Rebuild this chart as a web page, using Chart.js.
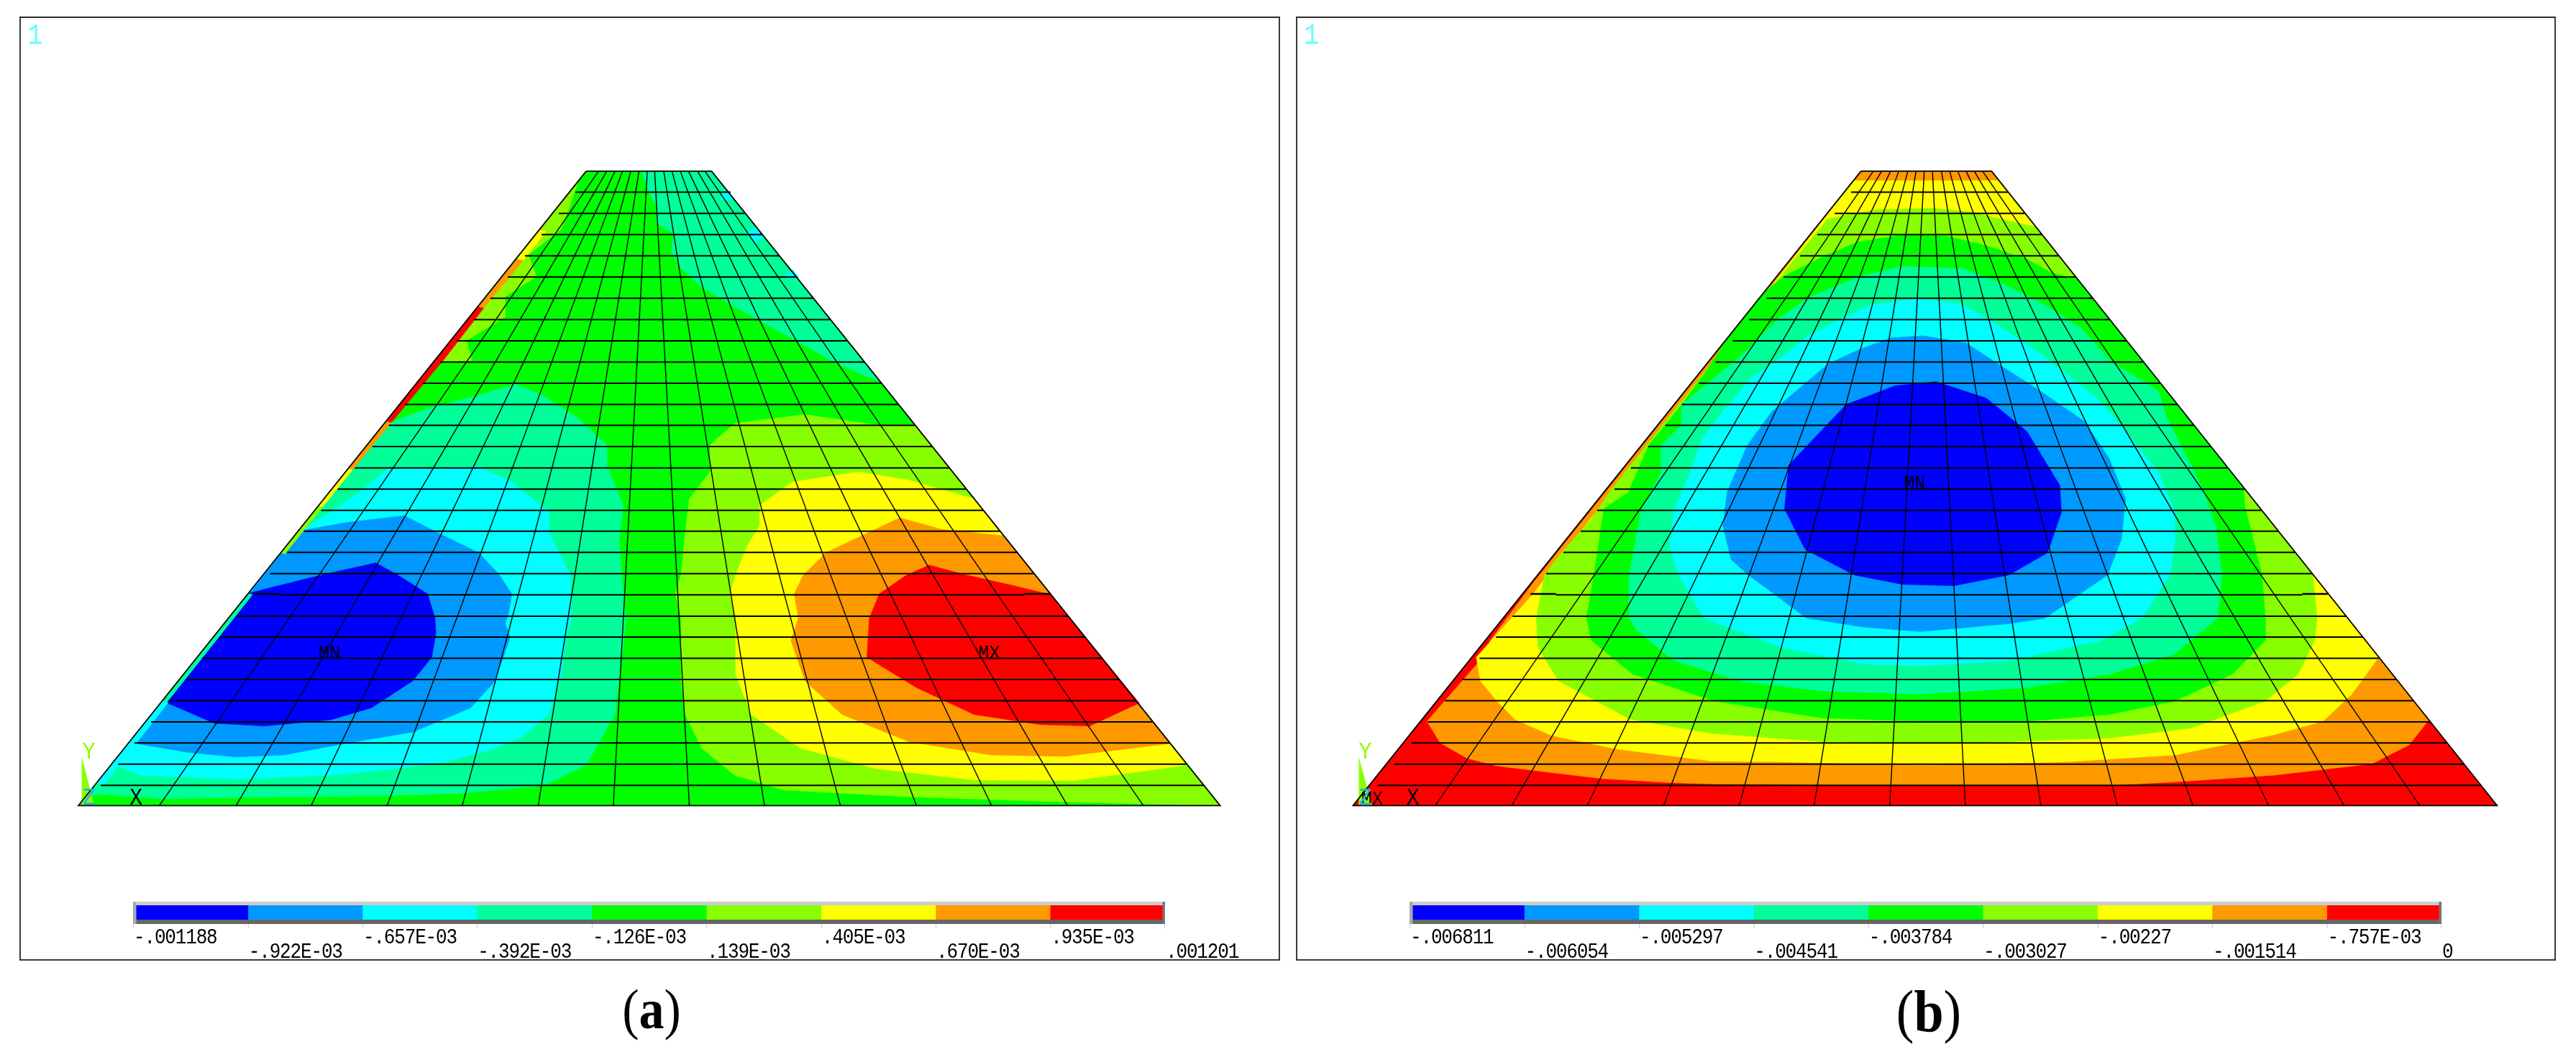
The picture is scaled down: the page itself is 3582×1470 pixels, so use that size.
<!DOCTYPE html>
<html>
<head>
<meta charset="utf-8">
<title>Contour plots</title>
<script src="https://cdn.jsdelivr.net/npm/chart.js@4/dist/chart.umd.min.js"></script>
<style>
  html, body { margin: 0; padding: 0; background: #fff; }
  body { position: relative; width: 3582px; height: 1470px; overflow: hidden; }
  canvas { position: absolute; }
  .frame { position: absolute; box-sizing: border-box; border: 2px solid #3a3a3a; border-top-color: #2a2a2a; }
  .caption { position: absolute; top: 1364px; width: 200px; text-align: center; color: #000;
             font-family: "Liberation Serif", serif; transform: scaleY(1.12); }
</style>
</head>
<body>
<div class="frame" style="left:27px;top:23px;width:1753px;height:1313px"></div>
<div class="frame" style="left:1802px;top:23px;width:1752px;height:1313px"></div>
<canvas id="plotA" width="1800" height="1470" style="left:0;top:0"></canvas>
<canvas id="plotB" width="1792" height="1470" style="left:1790px;top:0"></canvas>
<canvas id="barA" width="1595" height="90" style="left:165px;top:1249px"></canvas>
<canvas id="barB" width="1595" height="90" style="left:1940px;top:1249px"></canvas>
<div class="caption" style="left:806px;font-size:70px">(<b>a</b>)</div>
<div class="caption" style="left:2582px;font-size:74px">(<b>b</b>)</div>

<script>
// contour colours, low to high
const bandColors = ["#0000ff", "#0099ff", "#00ffff", "#00ff99", "#00ff00", "#88ff00", "#ffff00", "#ff9900", "#ff0000"];

// colour bar levels and their printed labels
const levelsA = [-0.001188, -0.000922, -0.000657, -0.000392, -0.000126, 0.000139, 0.000405, 0.00067, 0.000935, 0.001201];
const levelsB = [-0.006811, -0.006054, -0.005297, -0.004541, -0.003784, -0.003027, -0.00227, -0.001514, -0.000757, 0];
const tickLabelsA = ["-.001188", "-.922E-03", "-.657E-03", "-.392E-03", "-.126E-03", ".139E-03", ".405E-03", ".670E-03", ".935E-03", ".001201"];
const tickLabelsB = ["-.006811", "-.006054", "-.005297", "-.004541", "-.003784", "-.003027", "-.00227", "-.001514", "-.757E-03", "0"];

// mesh, in plot units
const meshRows = [285, 316.5, 348, 379.5, 411, 442.5, 474, 505.5, 537, 568.5, 600, 631, 662.5, 694, 725.5, 757, 788, 819.5, 851, 882.5, 914, 945, 976.5, 1008, 1039.5, 1071, 1102, 1133.5, 1165];
const rowStartA = [697, 677, 656, 636, 615, 594, 574, 553, 533, 512, 491, 471, 451, 430, 409, 389, 368, 348, 327, 339, 286, 266, 245, 225, 204, 183, 163, 143, 122];
const rowEndA = [885, 902, 923, 944, 964, 985, 1005, 1026, 1047, 1067, 1088, 1108, 1129, 1150, 1170, 1191, 1211, 1232, 1252, 1241, 1294, 1314, 1335, 1355, 1376, 1396, 1417, 1437, 1458];
const rowStartB = [686, 666, 645, 624, 604, 583, 562, 542, 521, 501, 480, 460, 439, 418, 398, 377, 357, 336, 315, 327, 274, 254, 234, 213, 192, 171, 151, 130, 110];
const rowEndB = [877, 897, 918, 938, 959, 980, 1000, 1021, 1041, 1062, 1083, 1103, 1124, 1144, 1165, 1185, 1206, 1226, 1247, 1235, 1288, 1308, 1328, 1349, 1370, 1391, 1411, 1432, 1452];
const colBottomA = [193, 286, 377, 469, 560, 652, 743, 835, 926, 1018, 1110, 1201, 1293, 1385];
const colTopA = [725, 735, 745, 754, 764, 774, 784, 793, 804, 814, 824, 834, 845, 854];
const colBottomB = [180, 273, 365, 458, 550, 641, 733, 825, 917, 1010, 1102, 1194, 1286, 1378];
const colTopB = [713, 723, 734, 744, 755, 765, 775, 785, 796, 806, 816, 826, 836, 846];
const outlineA = [[710, 254], [862, 254], [1478, 1195], [95, 1195], [710, 254]];
const outlineB = [[698, 254], [857, 254], [1472, 1195], [80, 1195], [698, 254]];
const offsetRowsA = [[[307, 881], [339, 881]], [[1241, 881], [1273, 881]]];
const offsetRowsB = [[[296, 881], [327, 881]], [[1235, 881], [1266, 881]]];
const triadA = [[99, 1124], [114, 1195], [99, 1195]];
const triadB = [[87, 1124], [103, 1195], [87, 1195]];

// panel (a) contour outlines
const chartreuseA = [[860, 660], [890, 628], [975, 615], [1060, 630], [1108, 630], [1478, 1195], [1300, 1190], [1100, 1182], [950, 1172], [890, 1150], [850, 1110], [830, 1060], [825, 1010], [825, 917], [818, 881], [825, 853], [830, 790], [835, 740], [860, 700]];
const yellowA = [[920, 750], [960, 715], [1040, 700], [1100, 712], [1180, 740], [1438, 1135], [1300, 1158], [1180, 1157], [1060, 1140], [970, 1110], [910, 1060], [891, 1000], [891, 917], [884, 881], [891, 853], [905, 810], [920, 780]];
const orangeA = [[1000, 820], [1090, 768], [1140, 785], [1216, 795], [1418, 1103], [1290, 1122], [1200, 1120], [1100, 1100], [1020, 1060], [975, 1010], [958, 950], [967, 917], [962, 881], [973, 853]];
const redA = [[1125, 838], [1171, 853], [1225, 868], [1273, 882], [1380, 1043], [1320, 1077], [1260, 1075], [1180, 1060], [1110, 1020], [1050, 975], [1053, 917], [1065, 881], [1098, 853]];
const springTopA = [[777, 254], [862, 254], [1065, 566], [1010, 537], [958, 501], [900, 462], [851, 427], [825, 398], [813, 373], [816, 347], [795, 331], [795, 306], [784, 281]];
const springA = [[465, 630], [520, 605], [575, 588], [625, 570], [655, 585], [700, 620], [735, 660], [735, 690], [755, 750], [750, 800], [753, 853], [758, 917], [755, 960], [750, 1000], [745, 1060], [710, 1135], [659, 1165], [557, 1177], [470, 1180], [380, 1182], [290, 1183], [195, 1185], [122, 1178], [103, 1182]];
const cyanA = [[400, 760], [440, 725], [470, 695], [580, 692], [620, 715], [665, 760], [665, 790], [691, 853], [692, 917], [685, 950], [680, 1000], [665, 1060], [630, 1095], [597, 1111], [538, 1131], [488, 1139], [402, 1150], [285, 1156], [170, 1150], [135, 1133], [361, 788]];
const skyA = [[361, 788], [420, 775], [490, 765], [530, 790], [580, 820], [605, 853], [620, 881], [616, 910], [612, 925], [618, 945], [600, 1010], [570, 1050], [500, 1086], [422, 1102], [344, 1120], [285, 1123], [227, 1116], [161, 1102]];
const blueA = [[301, 880], [389, 853], [455, 835], [482, 853], [518, 881], [527, 917], [528, 940], [523, 975], [500, 1010], [450, 1050], [400, 1068], [320, 1077], [260, 1073], [197, 1040]];
// small patches and the thin strip along the left edge of (a)
const cyanSpotsA = [[[878, 278], [890, 296], [872, 296]], [[905, 345], [915, 337], [925, 352], [915, 360]], [[950, 410], [960, 400], [968, 412], [955, 413]]];
const edgePatchA = [[700, 270], [692, 300], [680, 340], [640, 378], [650, 410], [612, 440], [612, 470], [565, 505], [572, 537], [526, 537]];
const edgeYellow1A = [[654, 341], [626, 384], [634, 386], [662, 343]];
const edgeOrange1A = [[626, 384], [579, 455], [586, 457], [634, 386]];
const edgeRedA = [[579, 455], [530, 530], [468, 625], [474, 627], [538, 533], [586, 457]];
const edgeOrange2A = [[468, 625], [422, 695], [427, 697], [474, 627]];
const edgeYellow2A = [[422, 695], [386, 750], [391, 752], [427, 697]];
const edgeChartA = [[386, 750], [340, 820], [345, 822], [391, 752]];
const edgeSpringA = [[301, 880], [197, 1040], [202, 1042], [306, 882]];
const edgeCyanA = [[197, 1040], [118, 1161], [125, 1165], [204, 1042]];

// panel (b) contour outlines, nested from the rim inwards
const orangeB = [[698, 254], [857, 254], [1389, 1068], [1365, 1105], [1320, 1133], [1200, 1150], [1080, 1160], [1000, 1165], [770, 1165], [516, 1163], [466, 1161], [382, 1155], [300, 1143], [254, 1136], [219, 1125], [186, 1102], [170, 1070], [238, 975], [247, 950], [302, 860]];
const yellowB = [[689, 268], [795, 268], [866, 268], [1328, 975], [1295, 1030], [1260, 1070], [1200, 1090], [1080, 1120], [950, 1130], [770, 1135], [600, 1130], [516, 1129], [400, 1111], [321, 1091], [277, 1067], [255, 1040], [235, 1010], [230, 975], [300, 880], [340, 815], [372, 765]];
const chartreuseB = [[657, 325], [684, 318], [718, 311], [785, 309], [835, 315], [869, 325], [902, 334], [910, 336], [1246, 850], [1248, 853], [1253, 917], [1250, 950], [1230, 1000], [1190, 1040], [1100, 1080], [1000, 1095], [880, 1100], [770, 1103], [650, 1100], [516, 1088], [417, 1067], [330, 1010], [305, 960], [303, 917], [313, 853], [330, 825], [370, 770], [395, 725], [620, 380]];
const greenB = [[601, 412], [649, 382], [694, 359], [751, 348], [802, 350], [855, 366], [899, 384], [929, 404], [952, 412], [960, 412], [1164, 725], [1165, 750], [1186, 853], [1190, 917], [1190, 950], [1150, 1000], [1080, 1040], [1000, 1060], [900, 1070], [770, 1070], [650, 1065], [520, 1040], [420, 1000], [370, 950], [364, 917], [373, 853], [385, 755], [415, 730], [440, 660], [480, 600], [510, 550], [534, 505], [577, 437]];
const springB = [[748, 395], [694, 411], [632, 443], [597, 473], [570, 507], [547, 533], [480, 600], [480, 630], [455, 660], [455, 700], [430, 760], [416, 853], [416, 917], [425, 935], [470, 980], [550, 1010], [650, 1025], [770, 1030], [900, 1020], [1000, 1000], [1080, 970], [1132, 917], [1137, 853], [1130, 780], [1115, 730], [1100, 690], [1070, 620], [1060, 580], [1003, 537], [966, 487], [922, 452], [869, 420], [822, 398]];
const cyanB = [[768, 443], [711, 452], [668, 476], [634, 498], [594, 537], [565, 560], [530, 610], [505, 650], [490, 700], [470, 760], [465, 810], [476, 853], [507, 917], [600, 960], [700, 985], [770, 988], [880, 980], [990, 950], [1040, 917], [1074, 853], [1080, 800], [1080, 760], [1060, 700], [1020, 640], [985, 590], [932, 540], [902, 512], [852, 473], [818, 450]];
const skyB = [[775, 498], [735, 501], [695, 519], [658, 540], [590, 610], [560, 660], [535, 730], [530, 780], [540, 830], [561, 853], [632, 917], [700, 930], [770, 937], [880, 925], [922, 917], [998, 853], [1015, 800], [1020, 740], [1000, 680], [970, 625], [910, 575], [865, 540], [825, 508]];
const blueB = [[790, 566], [740, 572], [680, 600], [610, 690], [605, 755], [630, 815], [690, 853], [748, 867], [811, 869], [878, 853], [925, 820], [942, 760], [940, 720], [900, 640], [850, 590]];

// text marks inside each plot: text, x, y (baseline)
const plotTextA = [["1", 33, 65], ["MN", 386, 977], ["MX", 1185, 977], ["Y", 100, 1125], ["X", 157, 1194], ["Z", 100, 1194]];
const plotTextB = [["1", 20, 65], ["MN", 750, 725], ["Y", 87, 1125], ["MX", 90, 1194], ["X", 145, 1194], ["Z", 87, 1194]];

const toPoints = (pairs) => pairs.map(([x, y]) => ({ x, y }));

function polygon(pairs, color) {
    return {
        data: toPoints(pairs),
        showLine: true,
        fill: "shape",
        backgroundColor: color,
        borderColor: color,
        borderWidth: 0.5,
        pointRadius: 0,
        tension: 0,
    };
}

function line(pairs, width) {
    return {
        data: toPoints(pairs),
        showLine: true,
        fill: false,
        borderColor: "#000",
        borderWidth: width,
        pointRadius: 0,
        tension: 0,
    };
}

function meshLines(rowStart, rowEnd, colBottom, colTop, outline, offsetRows) {
    const lines = [];
    colBottom.forEach((x, i) => lines.push(line([[x, 1195], [colTop[i], 254]], 1.4)));
    meshRows.forEach((y, i) => lines.push(line([[rowStart[i], y], [rowEnd[i], y]], 2)));
    offsetRows.forEach((seg) => lines.push(line(seg, 2.6)));
    lines.push(line(outline, 1.8));
    return lines;
}

// the picture's lettering is narrow and tall, so squeeze the mono face a bit
function tallText(ctx, text, x, y, size, squeeze) {
    ctx.save();
    ctx.translate(x, y);
    ctx.scale(squeeze, 1);
    ctx.font = size + 'px "Liberation Mono"';
    ctx.fillText(text, 0, 0);
    ctx.restore();
}

// puts the cyan "1", the triad letters and the MN / MX marks on the plot
const plotTextPlugin = {
    id: "plotText",
    afterDraw(chart, args, opts) {
        const { ctx, scales } = chart;
        ctx.save();
        ctx.textBaseline = "alphabetic";
        opts.items.forEach(([text, x, y]) => {
            let size = 33;
            let color = "#000";
            if (text === "1") { size = 40; color = "#66ffff"; }
            if (text === "MN" || text === "MX") size = 28;
            if (text === "Y") color = "#88ff00";
            if (text === "Z") color = "#22aaff";
            ctx.fillStyle = color;
            tallText(ctx, text, scales.x.getPixelForValue(x), scales.y.getPixelForValue(y), size, 0.9);
        });
        ctx.restore();
    },
};

function makePlot(id, datasets, items) {
    // axis units are those of the crop I read the values from
    return new Chart(document.getElementById(id), {
        type: "scatter",
        data: { datasets: datasets.reverse() },
        options: {
            responsive: false,
            animation: false,
            events: [],
            layout: { padding: 0 },
            scales: {
                x: { display: false, min: 0, max: 1568 },
                y: { display: false, min: 0, max: 1568, reverse: true },
            },
            plugins: {
                legend: { display: false },
                tooltip: { enabled: false },
                plotText: { items },
            },
        },
        plugins: [plotTextPlugin],
    });
}

// bevel, tick marks and staggered labels of the colour bar
const barDressPlugin = {
    id: "barDress",
    afterDraw(chart, args, opts) {
        const { ctx, chartArea: area, scales } = chart;
        ctx.save();
        ctx.fillStyle = "#cccccc";
        ctx.fillRect(area.left, area.top - 5, area.width, 5);
        ctx.fillStyle = "#666666";
        ctx.fillRect(area.left, area.bottom, area.width, 6);
        ctx.fillStyle = "#aaaaaa";
        ctx.fillRect(area.left, area.top - 5, 4.5, area.height + 11);
        ctx.fillStyle = "#777777";
        ctx.fillRect(area.right - 3.5, area.top - 5, 3.5, area.height + 11);
        ctx.letterSpacing = "-1.4px";
        ctx.textBaseline = "alphabetic";
        opts.levels.forEach((level, i) => {
            const x = scales.x.getPixelForValue(level);
            ctx.fillStyle = "#c8c8c8";
            ctx.fillRect(x - (i === opts.levels.length - 1 ? 1 : 0), area.bottom + 6, 1, 6);
            ctx.fillStyle = "#000";
            tallText(ctx, opts.labels[i], x + 1, area.bottom + (i % 2 ? 53 : 33), 30, 0.87);
        });
        ctx.restore();
    },
};

function makeBar(id, levels, labels) {
    const datasets = bandColors.map((color, i) => ({
        data: [[levels[i], levels[i + 1]]],
        backgroundColor: color,
        borderWidth: 0,
        borderSkipped: false,
        barPercentage: 1,
        categoryPercentage: 1,
        grouped: false,
    }));
    return new Chart(document.getElementById(id), {
        type: "bar",
        data: { labels: [""], datasets },
        options: {
            indexAxis: "y",
            responsive: false,
            animation: false,
            events: [],
            layout: { padding: { left: 20, right: 140, top: 10, bottom: 60 } },
            scales: {
                x: { display: false, min: levels[0], max: levels[levels.length - 1] },
                y: { display: false },
            },
            plugins: {
                legend: { display: false },
                tooltip: { enabled: false },
                barDress: { levels, labels },
            },
        },
        plugins: [barDressPlugin],
    });
}

const [blue, sky, cyan, spring, green, chartreuse, yellow, orange, red] = bandColors;

makePlot("plotA", [
    polygon(outlineA, green),
    polygon(chartreuseA, chartreuse),
    polygon(yellowA, yellow),
    polygon(orangeA, orange),
    polygon(redA, red),
    polygon(springTopA, spring),
    polygon(springA, spring),
    polygon(cyanA, cyan),
    polygon(skyA, sky),
    polygon(blueA, blue),
    ...cyanSpotsA.map((spot) => polygon(spot, cyan)),
    polygon(edgePatchA, chartreuse),
    polygon(edgeYellow1A, yellow),
    polygon(edgeOrange1A, orange),
    polygon(edgeRedA, red),
    polygon(edgeOrange2A, orange),
    polygon(edgeYellow2A, yellow),
    polygon(edgeChartA, chartreuse),
    polygon(edgeSpringA, spring),
    polygon(edgeCyanA, cyan),
    polygon(triadA, chartreuse),
    ...meshLines(rowStartA, rowEndA, colBottomA, colTopA, outlineA, offsetRowsA),
], plotTextA);

makePlot("plotB", [
    polygon(outlineB, red),
    polygon(orangeB, orange),
    polygon(yellowB, yellow),
    polygon(chartreuseB, chartreuse),
    polygon(greenB, green),
    polygon(springB, spring),
    polygon(cyanB, cyan),
    polygon(skyB, sky),
    polygon(blueB, blue),
    polygon(triadB, chartreuse),
    ...meshLines(rowStartB, rowEndB, colBottomB, colTopB, outlineB, offsetRowsB),
], plotTextB);

makeBar("barA", levelsA, tickLabelsA);
makeBar("barB", levelsB, tickLabelsB);
</script>
</body>
</html>
